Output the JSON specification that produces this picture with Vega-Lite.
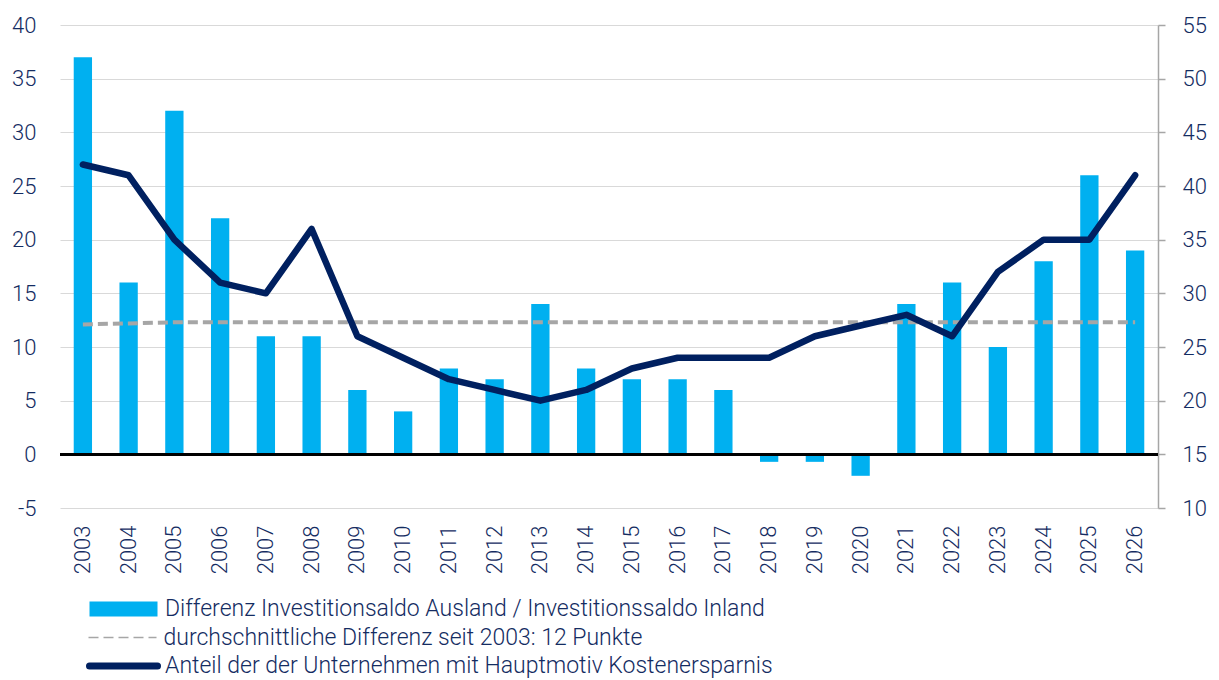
{
  "$schema": "https://vega.github.io/schema/vega-lite/v6.json",
  "width": 1098,
  "height": 483,
  "autosize": {"type": "none"},
  "padding": {"left": 60, "top": 25, "right": 61, "bottom": 172},
  "background": "white",
  "config": {
    "view": {"stroke": null},
    "axis": {"labelFont": "Roboto", "labelFontSize": 22, "labelFontWeight": 300, "labelColor": "#142c62", "titleColor": "#142c62"},
    "legend": {"labelFont": "Roboto", "labelFontSize": 23, "labelFontWeight": 300, "labelColor": "#142c62", "labelLimit": 900, "title": null, "orient": "none", "symbolType": "stroke", "symbolSize": 4624}
  },
  "data": {
    "values": [
      {"year": "2003", "diff": 37, "avg": 12.1, "share": 42},
      {"year": "2004", "diff": 16, "avg": 12.2, "share": 41},
      {"year": "2005", "diff": 32, "avg": 12.3, "share": 35},
      {"year": "2006", "diff": 22, "avg": 12.3, "share": 31},
      {"year": "2007", "diff": 11, "avg": 12.3, "share": 30},
      {"year": "2008", "diff": 11, "avg": 12.3, "share": 36},
      {"year": "2009", "diff": 6, "avg": 12.3, "share": 26},
      {"year": "2010", "diff": 4, "avg": 12.3, "share": 24},
      {"year": "2011", "diff": 8, "avg": 12.3, "share": 22},
      {"year": "2012", "diff": 7, "avg": 12.3, "share": 21},
      {"year": "2013", "diff": 14, "avg": 12.3, "share": 20},
      {"year": "2014", "diff": 8, "avg": 12.3, "share": 21},
      {"year": "2015", "diff": 7, "avg": 12.3, "share": 23},
      {"year": "2016", "diff": 7, "avg": 12.3, "share": 24},
      {"year": "2017", "diff": 6, "avg": 12.3, "share": 24},
      {"year": "2018", "diff": -0.7, "avg": 12.3, "share": 24},
      {"year": "2019", "diff": -0.7, "avg": 12.3, "share": 26},
      {"year": "2020", "diff": -2, "avg": 12.3, "share": 27},
      {"year": "2021", "diff": 14, "avg": 12.3, "share": 28},
      {"year": "2022", "diff": 16, "avg": 12.3, "share": 26},
      {"year": "2023", "diff": 10, "avg": 12.3, "share": 32},
      {"year": "2024", "diff": 18, "avg": 12.3, "share": 35},
      {"year": "2025", "diff": 26, "avg": 12.3, "share": 35},
      {"year": "2026", "diff": 19, "avg": 12.3, "share": 41}
    ]
  },
  "encoding": {
    "x": {
      "field": "year", "type": "ordinal", "title": null,
      "scale": {"paddingInner": 0.6, "paddingOuter": 0.3},
      "axis": {"labelAngle": -90, "domain": false, "ticks": false, "grid": false, "labelPadding": 17, "labelBaseline": "middle"}
    }
  },
  "layer": [
    {
      "mark": {"type": "bar"},
      "encoding": {
        "y": {
          "field": "diff", "type": "quantitative", "title": null,
          "scale": {"domain": [-5, 40], "nice": false, "zero": false},
          "axis": {"values": [-5, 0, 5, 10, 15, 20, 25, 30, 35, 40], "labelExpr": "'' + datum.value", "domain": false, "ticks": false, "labelPadding": 24, "grid": true, "gridColor": "#d9d9d9", "gridWidth": 1.2}
        },
        "color": {
          "datum": "Differenz Investitionsaldo Ausland / Investitionssaldo Inland",
          "type": "nominal",
          "scale": {"range": ["#00b0f0"]},
          "legend": {
            "legendX": 22,
            "legendY": 542.5,
            "labelOffset": 0,
            "symbolStrokeColor": "#00b0f0",
            "symbolStrokeWidth": 15,
            "encode": {"symbols": {"update": {"stroke": {"value": "#00b0f0"}, "strokeWidth": {"value": 15}, "opacity": {"value": 1}}}}
          }
        }
      }
    },
    {
      "mark": {"type": "rule", "color": "#000000", "strokeWidth": 2.5},
      "encoding": {
        "y": {"datum": 0, "type": "quantitative", "scale": {"domain": [-5, 40], "nice": false, "zero": false}, "axis": null},
        "x": null
      }
    },
    {
      "mark": {"type": "line", "strokeWidth": 4, "color": "#a6a6a6"},
      "encoding": {
        "y": {"field": "avg", "type": "quantitative", "scale": {"domain": [-5, 40], "nice": false, "zero": false}, "axis": null},
        "strokeDash": {
          "datum": "durchschnittliche Differenz seit 2003: 12 Punkte",
          "type": "nominal",
          "scale": {"range": [[10, 5]]},
          "legend": {
            "legendX": 27.5,
            "legendY": 577.5,
            "labelOffset": 6,
            "encode": {"symbols": {"update": {"stroke": {"value": "#a6a6a6"}, "strokeWidth": {"value": 4}, "opacity": {"value": 1}}}}
          }
        }
      }
    },
    {
      "mark": {"type": "line", "strokeWidth": 6.5, "strokeCap": "round", "strokeJoin": "round"},
      "encoding": {
        "y": {
          "field": "share", "type": "quantitative", "title": null,
          "scale": {"domain": [10, 55], "nice": false, "zero": false},
          "axis": {"orient": "right", "values": [10, 15, 20, 25, 30, 35, 40, 45, 50, 55], "grid": false, "domain": true, "domainColor": "#a6a6a6", "domainWidth": 1.5, "ticks": true, "tickColor": "#a6a6a6", "tickWidth": 1.5, "tickSize": 7, "labelPadding": 17}
        },
        "stroke": {
          "datum": "Anteil der der Unternehmen mit Hauptmotiv Kostenersparnis",
          "type": "nominal",
          "scale": {"range": ["#002060"]},
          "legend": {
            "legendX": 26,
            "legendY": 603.5,
            "labelOffset": 4,
            "encode": {"symbols": {"update": {"stroke": {"value": "#002060"}, "strokeWidth": {"value": 7}, "strokeCap": {"value": "round"}, "opacity": {"value": 1}}}}
          }
        }
      }
    }
  ],
  "resolve": {"scale": {"y": "independent"}}
}
